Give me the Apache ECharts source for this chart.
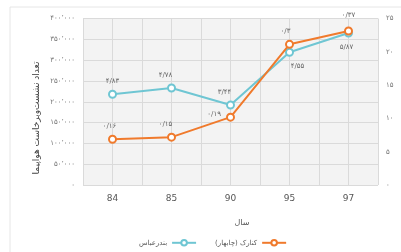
<!DOCTYPE html>
<html>
<head>
<meta charset="utf-8">
<script src="https://cdn.jsdelivr.net/npm/echarts@6/dist/echarts.min.js"></script>
<style>
  html, body { margin: 0; padding: 0; background: #fff; }
  #main { width: 401px; height: 252px; }
</style>
</head>
<body>
<div id="main"></div>
<script>
var years = ['84', '85', '90', '95', '97'];
var bandarAbbas = [218000, 233000, 192000, 319000, 365000];
var konarak = [110000, 115000, 163000, 338000, 370000];
var bandarAbbasLabels = ['۴/۸۳', '۴/۷۸', '۳/۴۴', '۴/۵۵', '۵/۸۷'];
var konarakLabels = ['۰/۱۶', '۰/۱۵', '۰/۱۹', '۰/۳', '۰/۳۷'];
var seriesNames = ['بندرعباس', 'کنارک (چابهار)'];
var yTitle = 'تعداد نشست‌وبرخاست هواپیما';
var xTitle = 'سال';

var blueLabelStyle = [
    { position: 'top', offset: [0, 0] },
    { position: 'top', offset: [-6, 0] },
    { position: 'top', offset: [-6, 0] },
    { position: 'bottom', offset: [8, 1] },
    { position: 'bottom', offset: [-2, 1] }
];
var orangeLabelStyle = [
    { position: 'top', offset: [-3, 0] },
    { position: 'top', offset: [-6, 0] },
    { position: 'left', offset: [0, -3] },
    { position: 'top', offset: [-4, 0] },
    { position: 'top', offset: [0, -3] }
];

function fa(s) {
    return String(s).replace(/\d/g, function (d) { return '۰۱۲۳۴۵۶۷۸۹'[d]; });
}
function faThousands(v) {
    return fa(String(v).replace(/\B(?=(\d{3})+(?!\d))/g, '٬'));
}
function buildData(values, labels, styles) {
    return values.map(function (v, i) {
        return {
            value: v,
            label: { formatter: labels[i], position: styles[i].position, offset: styles[i].offset }
        };
    });
}

var myChart = echarts.init(document.getElementById('main'));
var font = 'DejaVu Sans';

myChart.setOption({
    animation: false,
    textStyle: { fontFamily: font },
    graphic: [
        { type: 'rect', shape: { x: 10, y: 7, width: 400, height: 260 },
          style: { fill: 'none', stroke: '#e6e6e6', lineWidth: 1 }, silent: true },
        { type: 'text', x: 37, y: 118, rotation: Math.PI / 2,
          style: { text: yTitle, font: '9px DejaVu Sans', fill: '#444', align: 'center', verticalAlign: 'middle' } },
        { type: 'text', x: 242, y: 223,
          style: { text: xTitle, font: '8px DejaVu Sans', fill: '#555', align: 'center', verticalAlign: 'middle' } }
    ],
    grid: {
        left: 83, right: 23, top: 18.5, bottom: 67,
        show: true, backgroundColor: '#f3f3f3', borderWidth: 0
    },
    legend: {
        data: seriesNames,
        left: 134, top: 234,
        align: 'right',
        itemWidth: 24, itemHeight: 7, itemGap: 18,
        textStyle: { fontSize: 7, color: '#555', fontFamily: font }
    },
    xAxis: [{
        type: 'category',
        data: years,
        boundaryGap: true,
        axisLine: { show: false },
        axisTick: { show: false },
        splitLine: { show: false },
        axisLabel: { fontSize: 9, color: '#555', margin: 9, fontFamily: 'DejaVu Sans' }
    }, {
        type: 'value', min: 0, max: 10, interval: 1,
        show: true, position: 'top',
        axisLine: { show: false }, axisTick: { show: false }, axisLabel: { show: false },
        splitLine: { show: true, lineStyle: { color: '#dadada', width: 1 } }
    }],
    yAxis: [{
        type: 'value', min: 0, max: 400000, interval: 50000,
        axisLine: { show: false }, axisTick: { show: false },
        splitLine: { lineStyle: { color: '#dadada', width: 1 } },
        axisLabel: { fontSize: 7, color: '#777', margin: 8, formatter: faThousands }
    }, {
        type: 'value', min: 0, max: 25, interval: 5,
        axisLine: { show: false }, axisTick: { show: false },
        splitLine: { show: false },
        axisLabel: { fontSize: 7, color: '#777', margin: 8, formatter: fa }
    }],
    series: [{
        name: seriesNames[0],
        type: 'line',
        data: buildData(bandarAbbas, bandarAbbasLabels, blueLabelStyle),
        symbol: 'emptyCircle', symbolSize: 7,
        lineStyle: { color: '#6fc6d3', width: 2 },
        itemStyle: { color: '#6fc6d3', borderWidth: 2 },
        label: { show: true, fontSize: 7, color: '#666', distance: 5 },
        z: 3
    }, {
        name: seriesNames[1],
        type: 'line',
        data: buildData(konarak, konarakLabels, orangeLabelStyle),
        symbol: 'emptyCircle', symbolSize: 7,
        lineStyle: { color: '#f07a2c', width: 2 },
        itemStyle: { color: '#f07a2c', borderWidth: 2 },
        label: { show: true, fontSize: 7, color: '#666', distance: 5 },
        z: 4
    }]
});
</script>
</body>
</html>
